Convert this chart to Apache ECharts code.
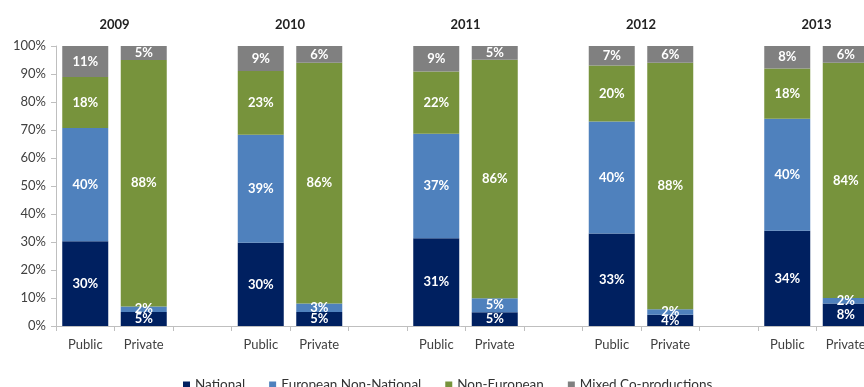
<!DOCTYPE html>
<html>
<head>
<meta charset="utf-8">
<script src="https://cdn.jsdelivr.net/npm/echarts@6/dist/echarts.min.js"></script>
<style>
html,body{margin:0;padding:0;background:#fff;}
#chart{width:864px;height:387px;}
</style>
</head>
<body>
<div id="chart"></div>
<script>
// ---- data ----
var years = ['2009', '2010', '2011', '2012', '2013'];
var sectors = ['Public', 'Private'];
var seriesNames = ['National', 'European Non-National', 'Non-European', 'Mixed Co-productions'];
// values per bar, in order: 2009 Public, 2009 Private, 2010 Public, ...
var national    = [30, 5, 30, 5, 31, 5, 33, 4, 34, 8];
var european    = [40, 2, 39, 3, 37, 5, 40, 2, 40, 2];
var nonEuropean = [18, 88, 23, 86, 22, 86, 20, 88, 18, 84];
var mixed       = [11, 5, 9, 6, 9, 5, 7, 6, 8, 6];
var yTicks = [0, 10, 20, 30, 40, 50, 60, 70, 80, 90, 100];

// ---- build ----
var colors = ['#002060', '#4F81BD', '#77933C', '#808080'];
var raw = [national, european, nonEuropean, mixed];
var categories = [];
var barIndex = []; // category index -> bar index or -1
years.forEach(function (y, g) {
  sectors.forEach(function (s, k) {
    categories.push(s);
    barIndex.push(g * 2 + k);
  });
  if (g < years.length - 1) { categories.push(''); barIndex.push(-1); }
});
var totals = national.map(function (_, i) {
  return raw.reduce(function (a, arr) { return a + arr[i]; }, 0);
});
var FONT = 'Lato';
var series = seriesNames.map(function (name, si) {
  return {
    name: name,
    type: 'bar',
    stack: 'all',
    barWidth: 46,
    itemStyle: { color: colors[si] },
    label: {
      show: true,
      position: 'inside',
      color: '#fff',
      fontWeight: 'bold',
      fontSize: 13,
      fontFamily: FONT,
      formatter: function (p) { return p.data.raw + '%'; }
    },
    data: barIndex.map(function (b) {
      if (b < 0) return { value: null, raw: null };
      return { value: raw[si][b] / totals[b] * 100, raw: raw[si][b] };
    })
  };
});

var chart = echarts.init(document.getElementById('chart'));
chart.setOption({
  animation: false,
  textStyle: { fontFamily: FONT },
  grid: { left: 56, width: 819, top: 46, bottom: 61, containLabel: false, outerBoundsMode: 'none' },
  legend: {
    data: seriesNames,
    top: 378,
    left: 183,
    padding: 0,
    itemWidth: 7,
    itemHeight: 7,
    itemGap: 24,
    icon: 'rect',
    textStyle: { fontSize: 13.5, color: '#333', fontFamily: FONT }
  },
  xAxis: [{
    type: 'category',
    data: categories,
    axisLine: { lineStyle: { color: '#bfbfbf' } },
    axisTick: { show: true, length: 5, lineStyle: { color: '#bfbfbf' } },
    axisLabel: { color: '#404040', fontSize: 13, margin: 12, fontFamily: FONT, interval: 0 }
  }, {
    type: 'value',
    position: 'top',
    min: 0,
    max: categories.length,
    splitLine: { show: false },
    axisLine: { show: false },
    axisTick: { show: false },
    axisLabel: {
      customValues: years.map(function (y, i) { return i * 3 + 1; }),
      formatter: function (v) { return years[Math.round((v - 1) / 3)]; },
      fontWeight: 'bold',
      fontSize: 13,
      color: '#222',
      margin: 15,
      fontFamily: FONT
    }
  }],
  yAxis: {
    type: 'value',
    min: 0,
    max: 100,
    interval: 10,
    splitLine: { show: false },
    axisLine: { show: true, lineStyle: { color: '#bfbfbf' } },
    axisTick: { show: true, length: 5, lineStyle: { color: '#bfbfbf' } },
    axisLabel: {
      color: '#404040', fontSize: 13, margin: 10, fontFamily: FONT,
      formatter: function (v) { return yTicks.indexOf(v) >= 0 ? v + '%' : ''; }
    }
  },
  series: series
});
</script>
</body>
</html>
